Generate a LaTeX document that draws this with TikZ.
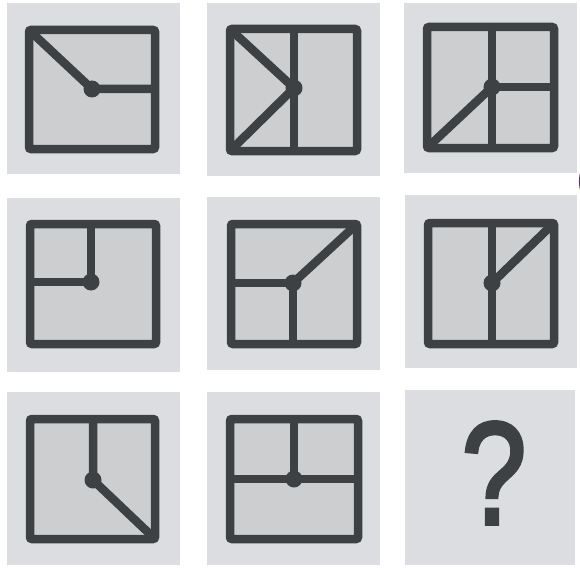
\documentclass[tikz,border=0pt]{standalone}
\usepackage{fontspec}
\newfontfamily\qfont[FakeBold=2.6]{Liberation Sans}
\definecolor{tilebgc}{RGB}{220,221,224}
\definecolor{innerc}{RGB}{204,206,208}
\definecolor{linec}{RGB}{62,65,68}
\definecolor{purplec}{RGB}{90,40,160}
\tikzset{
  tilebg/.style={fill=tilebgc, draw=none},
  frame/.style={draw=linec, fill=innerc, line width=8.5pt, rounded corners=2pt},
  bar/.style={draw=linec, line width=8.5pt},
  hub/.style={fill=linec, draw=none},
}
\begin{document}
\begin{tikzpicture}[x=1pt,y=-1pt]
\useasboundingbox[fill=white] (0,0) rectangle (580,567);
% ---------- row 1 ----------
\fill[tilebg] (7,3) rectangle (180,174);
\draw[frame] (29,30) rectangle (155,149);
\coordinate (d11) at (92,89);
\draw[bar] (29,30) -- (d11) -- (155,89);
\fill[hub] (d11) circle (8.5);

\fill[tilebg] (207,3) rectangle (380,176);
\draw[frame] (230,29) rectangle (357,151);
\coordinate (d12) at (294,88);
\draw[bar] (294,29) -- (294,151);
\draw[bar, line join=round] (230,29) -- (d12) -- (230,151);
\fill[hub] (d12) circle (8.5);

\fill[tilebg] (404,3) rectangle (577,173);
\draw[frame] (427,27) rectangle (554,148);
\coordinate (d13) at (492,87);
\draw[bar] (492,27) -- (492,148);
\draw[bar] (d13) -- (554,87);
\draw[bar] (d13) -- (427,148);
\fill[hub] (d13) circle (8.5);

% ---------- row 2 ----------
\fill[tilebg] (7,198) rectangle (180,372);
\draw[frame] (30,224) rectangle (156,344);
\coordinate (d21) at (91,282);
\draw[bar] (91,224) -- (d21) -- (30,282);
\fill[hub] (d21) circle (8.5);

\fill[tilebg] (207,197) rectangle (380,370);
\draw[frame] (231,224) rectangle (357,344);
\coordinate (d22) at (293,283);
\draw[bar] (231,283) -- (d22) -- (293,344);
\draw[bar] (d22) -- (357,224);
\fill[hub] (d22) circle (8.5);

\fill[tilebg] (405,195) rectangle (577,368);
\draw[frame] (428,223) rectangle (554,344);
\coordinate (d23) at (492,283);
\draw[bar] (492,223) -- (492,344);
\draw[bar] (d23) -- (554,223);
\fill[hub] (d23) circle (8.5);

% ---------- row 3 ----------
\fill[tilebg] (7,392) rectangle (180,565);
\draw[frame] (30,419) rectangle (155,539);
\coordinate (d31) at (93,480);
\draw[bar] (93,419) -- (d31) -- (155,539);
\fill[hub] (d31) circle (8.5);

\fill[tilebg] (207,392) rectangle (380,565);
\draw[frame] (230,419) rectangle (358,539);
\coordinate (d32) at (294,479);
\draw[bar] (294,419) -- (d32);
\draw[bar] (230,479) -- (358,479);
\fill[hub] (d32) circle (8.5);

\fill[tilebg] (405,390) rectangle (575,565);
\node[text=linec, font=\qfont\fontsize{146}{146}\selectfont, inner sep=0pt, xscale=0.8, transform shape] (q) at (494,473) {?};

% small purple mark at the right edge
\draw[purplec, line width=4pt] (583,193) arc[start angle=160, end angle=200, radius=34];
\end{tikzpicture}
\end{document}
